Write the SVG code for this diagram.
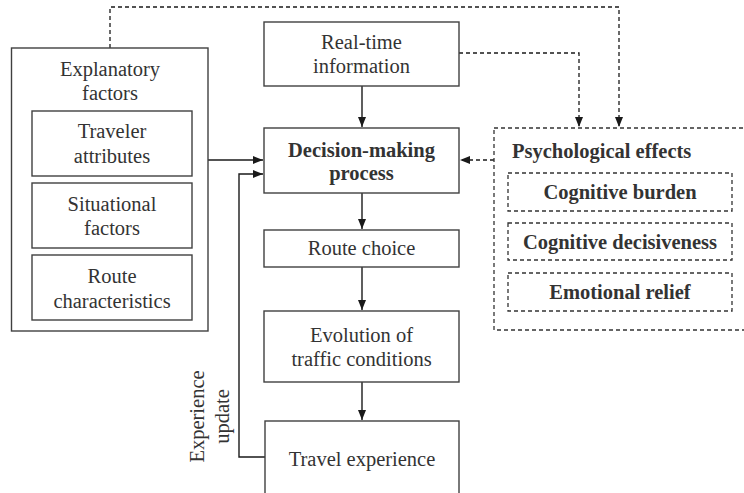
<svg xmlns="http://www.w3.org/2000/svg" width="744" height="493" viewBox="0 0 744 493">
<defs>
<marker id="ah" viewBox="0 0 10 8" refX="10" refY="4" markerWidth="10" markerHeight="8" markerUnits="userSpaceOnUse" orient="auto">
<path d="M0,0 L10,4 L0,8 Z" fill="#1a1a1a"/>
</marker>
<style>
.box{fill:#fff;stroke:#404040;stroke-width:1.4}
.dbox{fill:#fff;stroke:#333;stroke-width:1.3;stroke-dasharray:4 3}
.t{font-family:"Liberation Serif","Times New Roman",serif;font-size:20.5px;fill:#333;text-anchor:middle}
.b{font-family:"Liberation Serif","Times New Roman",serif;font-size:20.5px;font-weight:bold;fill:#333;text-anchor:middle}
.c{fill:none;stroke:#1a1a1a;stroke-width:1.4}
.d{fill:none;stroke:#1a1a1a;stroke-width:1.3;stroke-dasharray:4 3}
</style>
</defs>
<g id="connectors">
<path class="d" d="M110,48 V7 H619 V127" marker-end="url(#ah)"/>
<path class="d" d="M459,53 H579 V127" marker-end="url(#ah)"/>
<path class="d" d="M494,160 H460" marker-end="url(#ah)"/>
<path class="c" d="M362,86 V127" marker-end="url(#ah)"/>
<path class="c" d="M362,193 V229" marker-end="url(#ah)"/>
<path class="c" d="M362,267 V310" marker-end="url(#ah)"/>
<path class="c" d="M362,382 V420" marker-end="url(#ah)"/>
<path class="c" d="M208,160 H263" stroke="#666" marker-end="url(#ah)"/>
<path class="c" d="M265,457 H239 V174 H263" marker-end="url(#ah)"/>
</g>
<g id="explanatory">
<rect class="box" x="11.5" y="48" width="196.5" height="283"/>
<text class="t" x="110" y="76">Explanatory</text>
<text class="t" x="110" y="100">factors</text>
</g>
<g id="traveler">
<rect class="box" x="32" y="111" width="160" height="65"/>
<text class="t" x="112" y="138">Traveler</text>
<text class="t" x="112" y="163">attributes</text>
</g>
<g id="situational">
<rect class="box" x="32" y="183" width="160" height="65"/>
<text class="t" x="112" y="211">Situational</text>
<text class="t" x="112" y="235">factors</text>
</g>
<g id="route">
<rect class="box" x="32" y="255" width="160" height="65"/>
<text class="t" x="112" y="283">Route</text>
<text class="t" x="112" y="308">characteristics</text>
</g>
<g id="realtime">
<rect class="box" x="264" y="22" width="195" height="64"/>
<text class="t" x="361.5" y="49">Real-time</text>
<text class="t" x="361.5" y="73">information</text>
</g>
<g id="decision">
<rect class="box" x="264" y="128" width="195" height="65"/>
<text class="b" x="361.5" y="157">Decision-making</text>
<text class="b" x="361.5" y="180">process</text>
</g>
<g id="routechoice">
<rect class="box" x="264" y="230" width="195" height="37"/>
<text class="t" x="361.5" y="255">Route choice</text>
</g>
<g id="evolution">
<rect class="box" x="264" y="311" width="195" height="71"/>
<text class="t" x="361.5" y="342">Evolution of</text>
<text class="t" x="361.5" y="366">traffic conditions</text>
</g>
<g id="travel">
<rect class="box" x="265" y="421" width="194" height="90"/>
<text class="t" x="362" y="466">Travel experience</text>
</g>
<g id="psych">
<rect class="dbox" x="494" y="128" width="270" height="202"/>
<text class="b" x="512" y="158" style="text-anchor:start">Psychological effects</text>
</g>
<g id="burden">
<rect class="dbox" x="508" y="173" width="224" height="38"/>
<text class="b" x="620" y="199">Cognitive burden</text>
</g>
<g id="decisiveness">
<rect class="dbox" x="508" y="223" width="224" height="37"/>
<text class="b" x="620" y="249">Cognitive decisiveness</text>
</g>
<g id="relief">
<rect class="dbox" x="508" y="273" width="224" height="38"/>
<text class="b" x="620" y="299">Emotional relief</text>
</g>
<g id="label-update">
<text class="t" transform="translate(204,416.5) rotate(-90)" x="0" y="0">Experience</text>
<text class="t" transform="translate(229,416.5) rotate(-90)" x="0" y="0">update</text>
</g>
</svg>
